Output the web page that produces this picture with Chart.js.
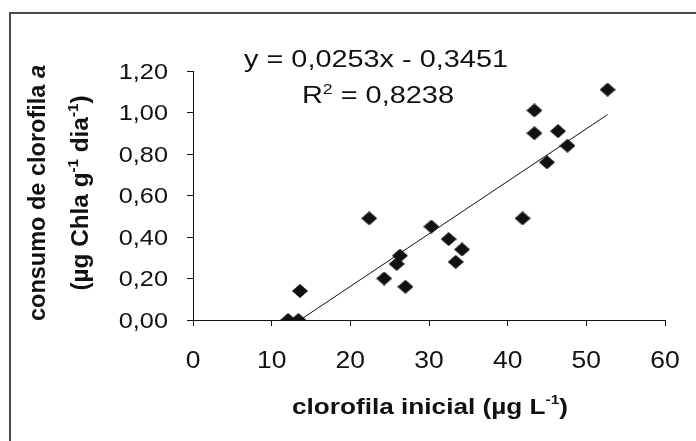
<!DOCTYPE html>
<html>
<head>
<meta charset="utf-8">
<script src="https://cdn.jsdelivr.net/npm/chart.js@4"></script>
<style>
  html, body { margin: 0; padding: 0; background: #fff; }
  #wrap { width: 696px; height: 441px; position: relative; }
</style>
</head>
<body>
<div id="wrap"><canvas id="chart" width="696" height="441"></canvas></div>
<script>
// ------------------------------------------------------
// Data
// ------------------------------------------------------
const chlInicial = [12.1, 13.4, 13.6, 22.4, 24.3, 25.9, 26.3, 27.0, 30.3, 32.5, 33.4, 34.2, 41.9, 43.4, 43.4, 45.0, 46.4, 47.6, 52.7];
const consumo = [0.00, 0.00, 0.14, 0.49, 0.20, 0.27, 0.31, 0.16, 0.45, 0.39, 0.28, 0.34, 0.49, 1.01, 0.90, 0.76, 0.91, 0.84, 1.11];

// trend line end points
const trendX = [13.6, 52.7];
const trendY = [0.00, 0.99];

const xTickLabels = ["0", "10", "20", "30", "40", "50", "60"];
const yTickLabels = ["0,00", "0,20", "0,40", "0,60", "0,80", "1,00", "1,20"];

const FONT = "'Liberation Sans', Arial, sans-serif";

// ------------------------------------------------------
// Helpers
// ------------------------------------------------------
function buildPoints(xs, ys) {
  const out = [];
  for (let i = 0; i < xs.length; i++) {
    out.push({ x: xs[i], y: ys[i] });
  }
  return out;
}

// diamond marker, a bit wider than tall like the original
function makeDiamond(w, h) {
  const c = document.createElement("canvas");
  c.width = w;
  c.height = h;
  const g = c.getContext("2d");
  g.fillStyle = "#111";
  g.beginPath();
  g.moveTo(w / 2, 0);
  g.lineTo(w, h / 2);
  g.lineTo(w / 2, h);
  g.lineTo(0, h / 2);
  g.closePath();
  g.fill();
  return c;
}

// draws runs of text centred on (cx, cy); stretched to a given width
function drawRuns(ctx, runs, cx, cy, capH, opts) {
  opts = opts || {};
  let w = 0;
  for (let i = 0; i < runs.length; i++) {
    ctx.font = runs[i].font;
    runs[i].w = ctx.measureText(runs[i].t).width;
    w += runs[i].w;
  }
  const sx = opts.width ? opts.width / w : (opts.sx || 1);
  ctx.save();
  ctx.translate(cx, cy);
  if (opts.angle) ctx.rotate(opts.angle);
  ctx.scale(sx, 1);
  ctx.fillStyle = "#111";
  ctx.textAlign = "left";
  ctx.textBaseline = "alphabetic";
  let x = -w / 2;
  for (let i = 0; i < runs.length; i++) {
    ctx.font = runs[i].font;
    ctx.fillText(runs[i].t, x, capH / 2 + (runs[i].dy || 0));
    x += runs[i].w;
  }
  ctx.restore();
}

function drawLabel(ctx, text, x, cy, size, align, sx) {
  ctx.save();
  ctx.translate(x, cy);
  ctx.scale(sx, 1);
  ctx.font = size + "px " + FONT;
  ctx.fillStyle = "#111";
  ctx.textAlign = align;
  ctx.textBaseline = "alphabetic";
  ctx.fillText(text, 0, size * 0.358);
  ctx.restore();
}

// ------------------------------------------------------
// Texts, frame and tick labels
// ------------------------------------------------------
const decorPlugin = {
  id: "decor",
  afterDraw(chart) {
    const ctx = chart.ctx;
    const xs = chart.scales.x;
    const ys = chart.scales.y;

    // frame (only top and left edges show)
    ctx.save();
    ctx.strokeStyle = "#4a4a4a";
    ctx.lineWidth = 2;
    ctx.beginPath();
    ctx.moveTo(10, 441);
    ctx.lineTo(10, 13);
    ctx.lineTo(696, 13);
    ctx.stroke();
    ctx.restore();

    // tick labels
    for (let i = 0; i < ys.ticks.length; i++) {
      const py = ys.getPixelForValue(ys.ticks[i].value);
      drawLabel(ctx, yTickLabels[i], 168, py, 22, "right", 1.15);
    }
    for (let i = 0; i < xs.ticks.length; i++) {
      const px = xs.getPixelForValue(xs.ticks[i].value);
      drawLabel(ctx, xTickLabels[i], px, 359.5, 23, "center", 1.15);
    }

    // equation
    const f23 = "23px " + FONT;
    const f14 = "14px " + FONT;
    drawRuns(ctx, [{ t: "y = 0,0253x - 0,3451", font: f23 }], 376, 58.3, 16.5, { width: 264 });
    drawRuns(ctx, [
      { t: "R", font: f23 },
      { t: "2", font: f14, dy: -9 },
      { t: " = 0,8238", font: f23 },
    ], 378, 95, 16.5, { width: 152 });

    // x title
    const b22 = "bold 22px " + FONT;
    const b13 = "bold 13px " + FONT;
    drawRuns(ctx, [
      { t: "clorofila inicial (\u00b5g L", font: b22 },
      { t: "-1", font: b13, dy: -10 },
      { t: ")", font: b22 },
    ], 430, 406, 16, { width: 276 });

    // y title, two rotated lines
    const b24 = "bold 24px " + FONT;
    const bi24 = "bold italic 24px " + FONT;
    const b15 = "bold 15px " + FONT;
    drawRuns(ctx, [
      { t: "consumo de clorofila ", font: b24 },
      { t: "a", font: bi24 },
    ], 36, 193, 17, { width: 256, angle: -Math.PI / 2 });
    drawRuns(ctx, [
      { t: "(\u00b5g Chla g", font: b24 },
      { t: "-1", font: b15, dy: -10 },
      { t: " dia", font: b24 },
      { t: "-1", font: b15, dy: -10 },
      { t: ")", font: b24 },
    ], 79, 193, 17, { width: 195, angle: -Math.PI / 2 });
  },
};

// ------------------------------------------------------
// Chart
// ------------------------------------------------------
const diamond = makeDiamond(16, 14);

new Chart(document.getElementById("chart").getContext("2d"), {
  type: "scatter",
  data: {
    datasets: [
      {
        data: buildPoints(chlInicial, consumo),
        pointStyle: diamond,
        pointRadius: 7,
        backgroundColor: "#111",
        borderColor: "#111",
        order: 1,
      },
      {
        type: "line",
        data: buildPoints(trendX, trendY),
        borderColor: "#111",
        borderWidth: 1,
        pointRadius: 0,
        fill: false,
        order: 2,
      },
    ],
  },
  options: {
    responsive: false,
    animation: false,
    layout: { padding: { left: 0, top: 71, right: 31, bottom: 0 } },
    plugins: {
      legend: { display: false },
      tooltip: { enabled: false },
    },
    scales: {
      x: {
        type: "linear",
        min: 0,
        max: 60,
        ticks: { stepSize: 10, display: false },
        grid: { drawOnChartArea: false, drawTicks: true, tickLength: 6, color: "#111", lineWidth: 1 },
        border: { color: "#111", width: 1 },
        afterFit(s) { s.height = 121; },
      },
      y: {
        min: 0,
        max: 1.2,
        ticks: { stepSize: 0.2, display: false },
        grid: { drawOnChartArea: false, drawTicks: true, tickLength: 6, color: "#111", lineWidth: 1 },
        border: { color: "#111", width: 1 },
        afterFit(s) { s.width = 193; },
      },
    },
  },
  plugins: [decorPlugin],
});
</script>
</body>
</html>
